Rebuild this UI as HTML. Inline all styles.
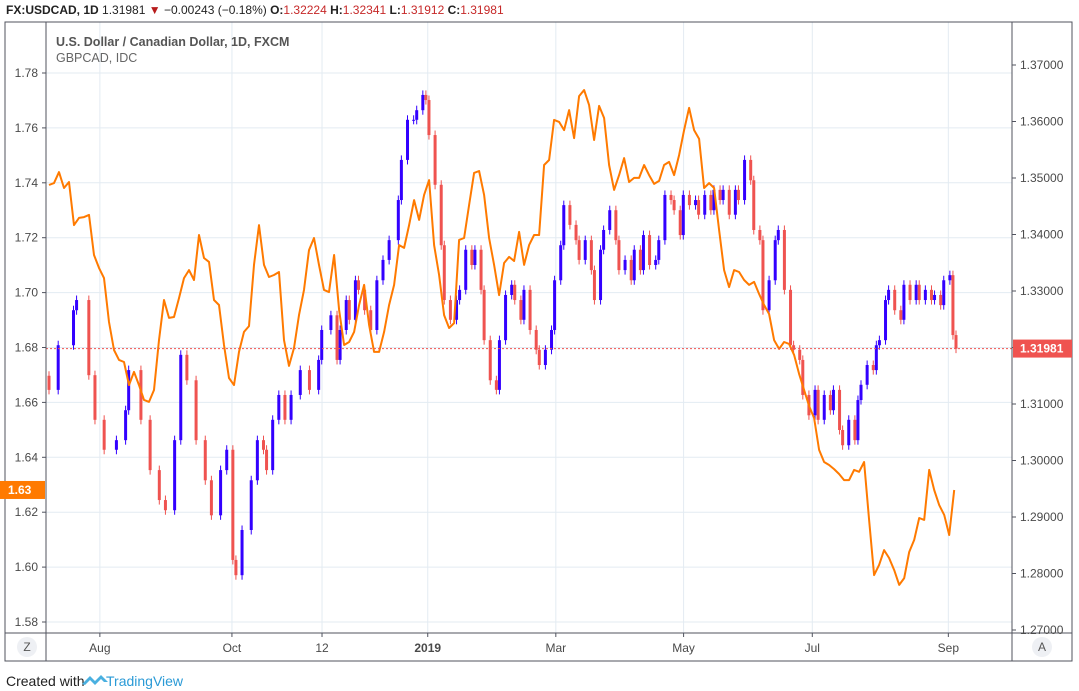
<!DOCTYPE html>
<html><head><meta charset="utf-8"><style>
body{margin:0;background:#fff;width:1079px;height:691px;overflow:hidden;font-family:"Liberation Sans",sans-serif}
svg{display:block}
</style></head><body>
<svg id="c" width="1079" height="691" xmlns="http://www.w3.org/2000/svg">
<g id="grid"></g>
<g id="plot"></g>
<g id="axes"></g>
<text x="6" y="14" font-size="12" font-weight="bold" fill="#222">FX:USDCAD, 1D <tspan font-weight="normal">1.31981</tspan> <tspan fill="#b71c1c">▼</tspan> <tspan font-weight="normal">−0.00243 (−0.18%)</tspan> O:<tspan fill="#c62828" font-weight="normal">1.32224</tspan> H:<tspan fill="#c62828" font-weight="normal">1.32341</tspan> L:<tspan fill="#c62828" font-weight="normal">1.31912</tspan> C:<tspan fill="#c62828" font-weight="normal">1.31981</tspan></text>
<text x="56" y="46" font-size="12.5" font-weight="bold" fill="#555">U.S. Dollar / Canadian Dollar, 1D, FXCM</text>
<text x="56" y="62" font-size="12.5" fill="#666">GBPCAD, IDC</text>
<text x="6" y="686" font-size="14" fill="#222">Created with</text>
<path d="M82 684 l8 -8 l5 5 l6 -6 l7 7 h-4 l-3 -3 l-6 6 l-5 -5 l-5 5z" fill="#4ab0e0"/>
<text x="106" y="686" font-size="14" fill="#2a9ad6">TradingView</text>
</svg>
<script>
const usdDay=[0,3,8,9,13,15,18,22,25,26,30,33,36,38,41,43,45,48,51,53,56,58,60,61,63,66,68,70,71,73,75,77,79,82,85,88,89,92,94,95,97,98,100,101,103,105,107,109,111,114,115,117,119,120,122,
123,124,126,128,129,131,133,134,136,138,139,141,142,144,146,147,149,151,152,154,155,157,159,160,162,164,165,167,168,170,172,173,175,177,178,180,181,183,185,186,188,190,191,193,194,196,198,199,201,203,204,206,207,209,211,212,214,216,217,219,220,222,224,225,227,229,230,232,233,235,237,238,240,242,243,245,246,248,250,251,253,255,256,258,259,261,263,
264,265,267,269,270,271,273,274,276,278,279,281,283,284,286,288,289,291,292,294,295,296];
const usdClose=[1.3125,1.3204,1.3266,1.3284,1.3151,1.3072,1.3019,1.3036,1.3089,1.3160,1.3072,1.2983,1.2930,1.2912,1.3036,1.3187,1.3142,1.3036,1.2965,1.2903,1.2983,1.3019,1.2824,1.2797,1.2877,1.2965,1.3036,1.3019,1.2983,1.3072,1.3116,1.3072,1.3116,1.3160,1.3125,1.3178,1.3231,1.3257,1.3178,1.3231,1.3284,1.3249,1.3319,1.3302,1.3266,1.3231,1.3319,1.3355,1.3390,1.3461,1.3532,1.3603,1.3603,1.3620,1.3647,1.3638,1.3576,1.3488,1.3381,1.3284,1.3249,1.3284,1.3302,1.3373,1.3346,1.3373,1.3302,1.3213,1.3142,1.3125,1.3213,1.3293,1.3311,1.3284,1.3249,1.3302,1.3231,1.3196,1.3169,1.3196,1.3231,1.3319,1.3381,1.3452,1.3417,1.3390,1.3355,1.3390,1.3337,1.3284,1.3373,1.3408,1.3443,1.3390,1.3337,1.3355,1.3319,1.3373,1.3337,1.3399,1.3346,1.3355,1.3390,1.3470,1.3461,1.3443,1.3399,1.3470,1.3452,1.3461,1.3435,1.3470,1.3443,1.3479,1.3461,1.3479,1.3435,1.3479,1.3461,1.3532,1.3496,1.3408,1.3390,1.3266,1.3319,1.3390,1.3408,1.3302,1.3204,1.3196,1.3178,1.3116,1.3080,1.3125,1.3072,1.3116,1.3089,1.3125,1.3054,1.3027,1.3072,1.3036,1.3107,1.3134,1.3169,1.3160,1.3204,1.3213,1.3284,1.3302,1.3266,1.3249,1.3311,1.3284,1.3311,1.3284,1.3302,1.3284,1.3293,1.3275,1.3319,1.3328,1.3222,1.3198];
const usdFirstOpen=1.3150;
const gbpClose=[1.7392,1.7399,1.7439,1.7381,1.7403,1.7246,1.7272,1.7275,1.7283,1.7137,1.7090,1.7053,1.6893,1.6791,1.6755,1.6747,1.6663,1.6711,1.6663,1.6609,1.6602,1.6645,1.6827,1.6973,1.6908,1.6911,1.6980,1.7053,1.7082,1.7046,1.7210,1.7126,1.7112,1.6973,1.6955,1.6809,1.6689,1.6663,1.6784,1.6857,1.6878,1.7101,1.7246,1.7101,1.7057,1.7064,1.7075,1.6827,1.6733,1.6798,1.6918,1.7010,1.7155,1.7199,1.7101,1.7010,1.7002,1.7137,1.6937,1.6809,1.6820,1.6857,1.6955,1.7028,1.6882,1.6784,1.6784,1.6857,1.6955,1.7028,1.7173,1.7163,1.7246,1.7337,1.7265,1.7356,1.7410,1.7173,1.7064,1.6918,1.6871,1.6889,1.7192,1.7199,1.7319,1.7436,1.7443,1.7356,1.7199,1.7101,1.6991,1.7108,1.7130,1.7115,1.7221,1.7101,1.7173,1.7210,1.7210,1.7465,1.7483,1.7629,1.7622,1.7592,1.7665,1.7563,1.7716,1.7738,1.7683,1.7556,1.7680,1.7636,1.7465,1.7374,1.7428,1.7490,1.7403,1.7418,1.7418,1.7465,1.7428,1.7396,1.7407,1.7465,1.7476,1.7428,1.7501,1.7592,1.7673,1.7592,1.7560,1.7381,1.7399,1.7381,1.7228,1.7082,1.7020,1.7082,1.7075,1.7046,1.7028,1.7039,1.6995,1.6955,1.6922,1.6827,1.6795,1.6820,1.6813,1.6773,1.6704,1.6645,1.6587,1.6543,1.6427,1.6383,1.6372,1.6357,1.6339,1.6317,1.6317,1.6354,1.6347,1.6383,1.6172,1.5971,1.6008,1.6062,1.6033,1.5989,1.5935,1.5960,1.6055,1.6099,1.6179,1.6172,1.6354,1.6281,1.6226,1.6190,1.6117,1.6281];
const leftTicks=[1.78,1.76,1.74,1.72,1.70,1.68,1.66,1.64,1.62,1.60,1.58];
const rightTicks=[1.37,1.36,1.35,1.34,1.33,1.32,1.31,1.30,1.29,1.28,1.27];
const timeLabels=["Aug","Oct","12","2019","Mar","May","Jul","Sep"];
const timeDay=[16.6,59.7,89.1,123.6,165.4,207.1,249.1,293.5];
const lastPrice=1.31981;

const NS="http://www.w3.org/2000/svg";
const PL=46,PR=1012,PT=22,PB=633;
const X0=49,X1=956,DAYS=296;
const xDay=d=>X0+d/DAYS*(X1-X0);
const xOfN=(i,n)=>xDay(i/(n-1)*295.4);
const yL=v=>73+(1.78-v)*2745;
const yR=v=>65+(1.37-v)*5650;
function mk(tag,attrs,parent){const e=document.createElementNS(NS,tag);for(const k in attrs)e.setAttribute(k,attrs[k]);parent.appendChild(e);return e;}
const grid=document.getElementById('grid'),plot=document.getElementById('plot'),axes=document.getElementById('axes');

leftTicks.forEach(t=>{const l=mk('line',{x1:PL,x2:PR,y1:yL(t),y2:yL(t),stroke:'#e3ebf2','stroke-width':1},grid);

});
timeDay.forEach(d=>{const l=mk('line',{x1:xDay(d),x2:xDay(d),y1:PT,y2:PB,stroke:'#e3ebf2','stroke-width':1},grid);

});

let prev=usdFirstOpen;
usdClose.forEach((c,i)=>{
 const o=prev;prev=c;
 const up=c>=o,col=up?'#3300ff':'#ef5350';
 const hi=Math.max(o,c)+0.0008,lo=Math.min(o,c)-0.0008;
 const x=xDay(usdDay[i]);
 const w=mk('line',{x1:x,x2:x,y1:yR(hi),y2:yR(lo),stroke:col,'stroke-width':1},plot);
 
 
 const yt=yR(Math.max(o,c)),yb=yR(Math.min(o,c));
 const b=mk('rect',{x:x-1.5,y:yt,width:3,height:Math.max(1,yb-yt),fill:col},plot);
 
 
});
const nG=gbpClose.length;
const pl=mk('polyline',{points:gbpClose.map((v,i)=>xOfN(i,nG).toFixed(1)+','+yL(v).toFixed(1)).join(' '),fill:'none',stroke:'#ff7a00','stroke-width':2,'stroke-linejoin':'round'},plot);


const lp=mk('line',{x1:PL,x2:PR,y1:yR(lastPrice),y2:yR(lastPrice),stroke:'#ef5350','stroke-width':1,'stroke-dasharray':'2,2'},plot);



const fr=mk('path',{d:`M5 ${PT}H1072V661H5Z M${PL} ${PT}V661 M${PR} ${PT}V661 M5 ${PB}H1072`,fill:'none',stroke:'#50535e','stroke-width':1},axes);


leftTicks.forEach(t=>{const y=yL(t);
 const tk=mk('line',{x1:PL-4,x2:PL,y1:y,y2:y,stroke:'#50535e'},axes);
 
 
 const tx=mk('text',{x:38,y:y+4,'font-size':12,fill:'#4a4a4a','text-anchor':'end'},axes);tx.textContent=t.toFixed(2);
 
 });
rightTicks.forEach(t=>{const y=yR(t);
 const tk=mk('line',{x1:PR,x2:PR+4,y1:y,y2:y,stroke:'#50535e'},axes);
 
 
 const tx=mk('text',{x:1020,y:y+4,'font-size':12,fill:'#4a4a4a'},axes);tx.textContent=t.toFixed(5);
 
 });
timeLabels.forEach((s,k)=>{const x=xDay(timeDay[k]);
 const tk=mk('line',{x1:x,x2:x,y1:PB,y2:PB+4,stroke:'#50535e'},axes);
 
 
 const tx=mk('text',{x:x,y:652,'font-size':12,fill:'#4a4a4a','text-anchor':'middle','font-weight':s==='2019'?'bold':'normal'},axes);tx.textContent=s;
 
 });
const ry=yR(lastPrice);
const rb=mk('rect',{x:1013,y:ry-9,width:59,height:18,fill:'#ef5350'},axes);


const rt=mk('text',{x:1020,y:ry+4,'font-size':12,'font-weight':'bold',fill:'#fff'},axes);rt.textContent=lastPrice.toFixed(5);


const gy=yL(gbpClose[nG-1]);
const gb=mk('rect',{x:0,y:gy-9,width:45,height:18,fill:'#ff7a00'},axes);


const gt=mk('text',{x:8,y:gy+4,'font-size':12,'font-weight':'bold',fill:'#fff'},axes);gt.textContent=gbpClose[nG-1].toFixed(2);


[[27,'Z','zoom-reset-button'],[1042,'A','auto-scale-button']].forEach(([x,s,n])=>{
 const c=mk('circle',{cx:x,cy:647,r:10,fill:'#eef0f4'},axes);
 
 
 const t=mk('text',{x:x,y:651,'font-size':12,fill:'#555','text-anchor':'middle'},axes);t.textContent=s;
 
 
});
</script>
</body></html>
